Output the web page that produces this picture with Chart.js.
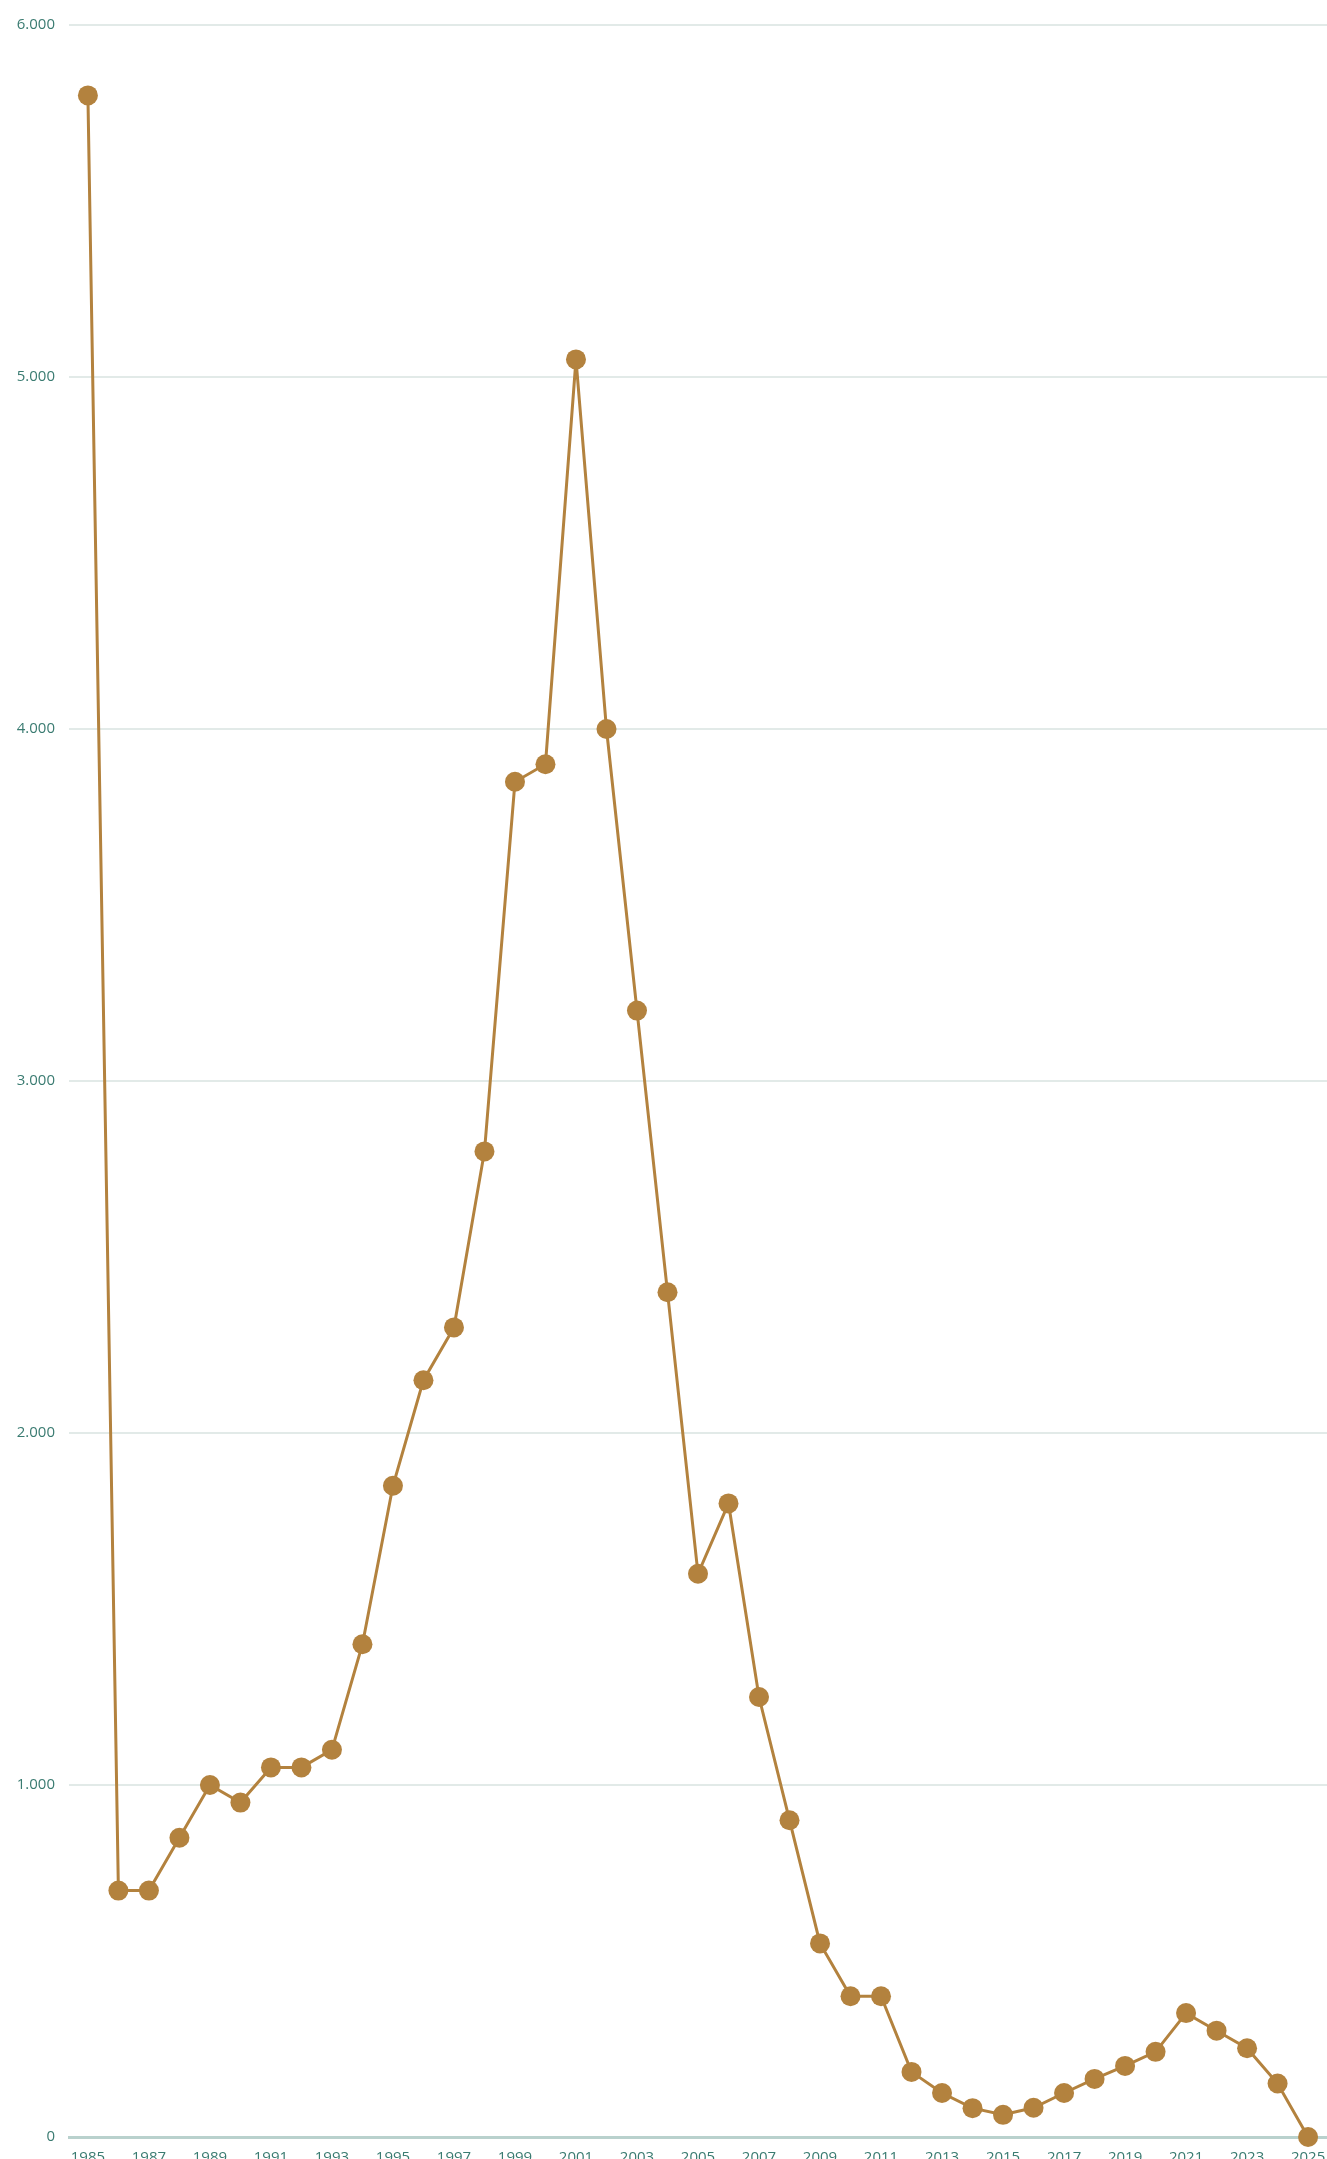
<!DOCTYPE html>
<html>
<head>
<meta charset="utf-8">
<script src="https://cdn.jsdelivr.net/npm/chart.js@4/dist/chart.umd.min.js"></script>
<style>
  html, body { margin: 0; padding: 0; background: #fff; overflow: hidden; }
  #wrap { position: absolute; left: 0; top: 0; width: 1360px; height: 2190px; }
</style>
</head>
<body>
<div id="wrap"><canvas id="chart"></canvas></div>
<script>
const years = [1985, 1986, 1987, 1988, 1989, 1990, 1991, 1992, 1993, 1994,
  1995, 1996, 1997, 1998, 1999, 2000, 2001, 2002, 2003, 2004,
  2005, 2006, 2007, 2008, 2009, 2010, 2011, 2012, 2013, 2014,
  2015, 2016, 2017, 2018, 2019, 2020, 2021, 2022, 2023, 2024, 2025];
const values = [5800, 700, 700, 850, 1000, 950, 1050, 1050, 1100, 1400,
  1850, 2150, 2300, 2800, 3850, 3900, 5050, 4000, 3200, 2400,
  1600, 1800, 1250, 900, 550, 400, 400, 185, 125, 82,
  63, 83, 125, 165, 202, 242, 352, 302, 252, 152, 0];
const xTickYears = [1985, 1987, 1989, 1991, 1993, 1995, 1997, 1999, 2001, 2003,
  2005, 2007, 2009, 2011, 2013, 2015, 2017, 2019, 2021, 2023, 2025];
const yTicks = [0, 1000, 2000, 3000, 4000, 5000, 6000];

const lineColor = '#b3823e';
const tickColor = '#3a7b71';

const ctx = document.getElementById('chart').getContext('2d');
new Chart(ctx, {
  type: 'line',
  data: {
    datasets: [{
      data: years.map((y, i) => ({ x: y, y: values[i] })),
      borderColor: lineColor,
      backgroundColor: lineColor,
      borderWidth: 3,
      pointRadius: 10,
      pointHoverRadius: 10,
      pointBorderWidth: 0,
      tension: 0,
      clip: false
    }]
  },
  options: {
    responsive: true,
    maintainAspectRatio: false,
    animation: false,
    layout: { padding: { top: 25, right: 33, left: 0, bottom: 0 } },
    plugins: {
      legend: { display: false },
      tooltip: { enabled: false }
    },
    scales: {
      x: {
        type: 'linear',
        min: 1984.38,
        max: 2025.62,
        afterBuildTicks: (scale) => {
          scale.ticks = xTickYears.map(v => ({ value: v }));
        },
        // fixed height so the plot bottom lands where the zero line is
        afterFit: (scale) => { scale.height = 53; },
        grid: { display: false, drawTicks: false },
        border: { display: true, color: '#b9d1cd', width: 3 },
        ticks: {
          autoSkip: false,
          maxRotation: 0,
          padding: 12,
          color: tickColor,
          font: { family: 'Open Sans', size: 15 },
          callback: (v) => String(v)
        }
      },
      y: {
        min: 0,
        max: 6000,
        afterBuildTicks: (scale) => {
          scale.ticks = yTicks.map(v => ({ value: v }));
        },
        afterFit: (scale) => { scale.width = 69; },
        grid: { color: '#e2eae8', lineWidth: 2, drawTicks: false },
        border: { display: false },
        ticks: {
          padding: 14,
          color: tickColor,
          font: { family: 'Open Sans', size: 15 },
          callback: (v) => v === 0 ? '0' : v.toLocaleString('de-DE')
        }
      }
    }
  }
});
</script>
</body>
</html>
